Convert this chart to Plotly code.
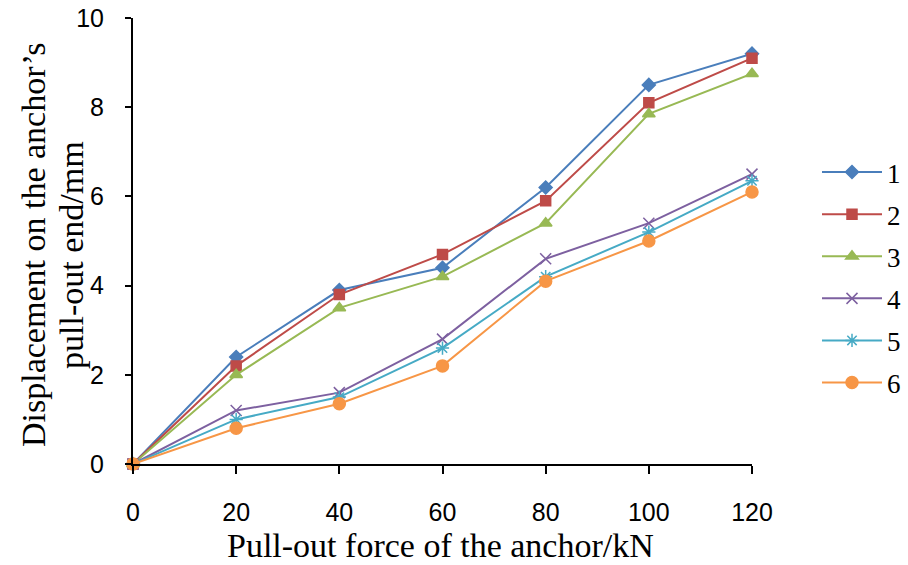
import plotly.graph_objects as go

force = [0, 20, 40, 60, 80, 100, 120]
names = ["1", "2", "3", "4", "5", "6"]
s1 = [0, 2.4, 3.9, 4.4, 6.2, 8.5, 9.2]
s2 = [0, 2.2, 3.8, 4.7, 5.9, 8.1, 9.1]
s3 = [0, 2.0, 3.5, 4.2, 5.4, 7.85, 8.75]
s4 = [0, 1.2, 1.6, 2.8, 4.6, 5.4, 6.5]
s5 = [0, 1.0, 1.5, 2.6, 4.2, 5.2, 6.35]
s6 = [0, 0.8, 1.35, 2.2, 4.1, 5.0, 6.1]
series = [s1, s2, s3, s4, s5, s6]
colors = ["#4A7EBB", "#BE4B48", "#98B954", "#7D60A0", "#46AAC5", "#F79646"]
symbols = ["diamond", "square", "triangle-up", "x-thin", "asterisk", "circle"]
sizes = [10, 10, 11, 11, 11, 12]

PL, PR, PT, PB = 133, 156, 18, 101
W, H = 908, 565
pw, ph = W - PL - PR, H - PT - PB


def px(xp):
    return (xp - PL) / pw


def py(yp):
    return (H - PB - yp) / ph


fig = go.Figure()
for i, (nm, ys) in enumerate(zip(names, series)):
    mk = dict(symbol=symbols[i], size=sizes[i], color=colors[i],
              line=dict(color=colors[i], width=1.5))
    fig.add_trace(go.Scatter(x=force, y=ys, name=nm, mode="lines+markers",
                             line=dict(color=colors[i], width=2),
                             marker=mk, legendgroup=nm))

title_font = dict(family="Liberation Serif", size=34, color="black")
fig.update_layout(
    width=W, height=H,
    margin=dict(l=PL, r=PR, t=PT, b=PB, autoexpand=False),
    plot_bgcolor="white", paper_bgcolor="white",
    showlegend=True,
    legend=dict(x=px(817), y=py(148), xanchor="left", yanchor="top",
                font=dict(family="Liberation Serif", size=27, color="black"),
                tracegroupgap=4, itemwidth=60, traceorder="grouped",
                bgcolor="rgba(0,0,0,0)"),
    xaxis=dict(range=[0, 120], tickvals=force, showline=True, linecolor="black",
               linewidth=2, ticks="outside", ticklen=8, tickwidth=2, tickcolor="black",
               showgrid=False, zeroline=False, automargin=False,
               tickfont=dict(family="Liberation Sans", size=25, color="black"),
               ticklabelstandoff=17),
    yaxis=dict(range=[0, 10], tickvals=[0, 2, 4, 6, 8, 10], showline=True, linecolor="black",
               linewidth=2, ticks="outside", ticklen=6, tickwidth=2, tickcolor="black",
               showgrid=False, zeroline=False, automargin=False,
               tickfont=dict(family="Liberation Sans", size=25, color="black"),
               ticklabelstandoff=16),
    annotations=[
        dict(text="Pull-out force of the anchor/kN", xref="paper", yref="paper",
             x=px(440), y=py(545), xanchor="center", yanchor="middle",
             showarrow=False, font=title_font),
        dict(text="Displacement on the anchor’s", xref="paper", yref="paper",
             x=px(33), y=py(245), xanchor="center", yanchor="middle", textangle=-90,
             showarrow=False, font=title_font),
        dict(text="pull-out end/mm", xref="paper", yref="paper",
             x=px(71), y=py(255), xanchor="center", yanchor="middle", textangle=-90,
             showarrow=False, font=title_font),
    ],
)
fig.update_traces(cliponaxis=False)
fig.write_html("out.html")
